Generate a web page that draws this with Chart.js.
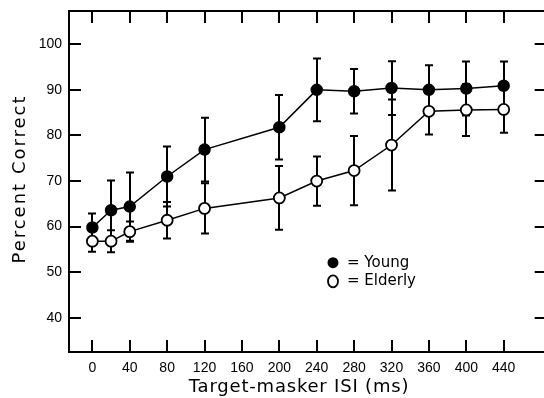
<!DOCTYPE html>
<html lang="en">
<head>
  <meta charset="utf-8">
  <script src="https://cdn.jsdelivr.net/npm/chart.js@4.4.1/dist/chart.umd.min.js"></script>
  <style>
    html, body { margin: 0; padding: 0; background: #fff; overflow: hidden; }
    /* canvas is a bit wider than the window so the right frame falls off the edge */
    #isi-chart { display: block; }
  </style>
</head>
<body>
  <canvas id="isi-chart" width="554" height="398"></canvas>
<script>
  // data
  const isi = [0, 20, 40, 80, 120, 200, 240, 280, 320, 360, 400, 440];
  const young = [59.8, 63.6, 64.4, 71.0, 76.9, 81.8, 90.0, 89.7, 90.4, 90.0, 90.3, 90.9];
  const youngErr = [3.1, 6.5, 7.5, 6.6, 7.0, 7.1, 6.9, 4.9, 5.9, 5.4, 5.9, 5.3];
  const elderly = [56.8, 56.8, 58.9, 61.4, 64.0, 66.3, 70.0, 72.3, 77.9, 85.3, 85.6, 85.7];
  const elderlyErr = [2.3, 2.4, 2.2, 4.0, 5.5, 7.0, 5.4, 7.6, 10.0, 5.1, 5.7, 5.1];
  const xTicks = [0, 40, 80, 120, 160, 200, 240, 280, 320, 360, 400, 440];
  const yTicks = [40, 50, 60, 70, 80, 90, 100];
  const xTitle = 'Target-masker ISI (ms)';
  const yTitle = 'Percent Correct';

  const toPoints = (ys) => isi.map((x, i) => ({ x: x, y: ys[i] }));

  // error bars, frame, inward ticks, titles and the little key
  const figurePlugin = {
    id: 'figure',
    beforeDatasetsDraw(chart) {
      const ctx = chart.ctx, xs = chart.scales.x, ys = chart.scales.y;
      ctx.save();
      ctx.strokeStyle = '#000';
      ctx.lineWidth = 2;
      [[young, youngErr], [elderly, elderlyErr]].forEach(([vals, errs]) => {
        vals.forEach((v, i) => {
          const px = Math.round(xs.getPixelForValue(isi[i]));
          const top = ys.getPixelForValue(v + errs[i]);
          const bot = ys.getPixelForValue(v - errs[i]);
          ctx.beginPath();
          ctx.moveTo(px, top); ctx.lineTo(px, bot);
          ctx.moveTo(px - 4, top); ctx.lineTo(px + 4, top);
          ctx.moveTo(px - 4, bot); ctx.lineTo(px + 4, bot);
          ctx.stroke();
        });
      });
      ctx.restore();
    },
    afterDraw(chart) {
      const ctx = chart.ctx, a = chart.chartArea;
      const xs = chart.scales.x, ys = chart.scales.y;
      const len = 12;
      ctx.save();
      ctx.strokeStyle = '#000';
      ctx.lineWidth = 2;
      ctx.strokeRect(a.left, a.top, a.right - a.left, a.bottom - a.top);
      ctx.beginPath();
      xTicks.forEach(t => {
        const px = Math.round(xs.getPixelForValue(t));
        ctx.moveTo(px, a.bottom); ctx.lineTo(px, a.bottom - len);
        ctx.moveTo(px, a.top); ctx.lineTo(px, a.top + len);
      });
      yTicks.forEach(t => {
        const py = Math.round(ys.getPixelForValue(t));
        ctx.moveTo(a.left, py); ctx.lineTo(a.left + len, py);
        ctx.moveTo(a.right, py); ctx.lineTo(a.right - len, py);
      });
      ctx.stroke();

      // axis titles (spaced out like the original lettering)
      ctx.fillStyle = '#000';
      ctx.textAlign = 'center';
      ctx.textBaseline = 'middle';
      ctx.font = '18px "DejaVu Sans", sans-serif';
      ctx.letterSpacing = '0.8px';
      ctx.fillText(xTitle, 299, 387);
      ctx.save();
      ctx.translate(20, 179);
      ctx.rotate(-Math.PI / 2);
      ctx.letterSpacing = '2px';
      ctx.fillText(yTitle, 0, 0);
      ctx.restore();
      ctx.letterSpacing = '0px';

      // key
      const kx = xs.getPixelForValue(257.4), ky1 = ys.getPixelForValue(52.1), ky2 = ys.getPixelForValue(48.0);
      ctx.beginPath(); ctx.arc(kx, ky1, 5.5, 0, Math.PI * 2); ctx.fill();
      ctx.lineWidth = 1.8;
      ctx.beginPath(); ctx.ellipse(kx, ky2, 5, 6, 0, 0, Math.PI * 2); ctx.stroke();
      ctx.font = '15px "DejaVu Sans", sans-serif';
      ctx.textAlign = 'left';
      ctx.fillText('= Young', kx + 14, ky1);
      ctx.fillText('= Elderly', kx + 14, ky2);
      ctx.restore();
    }
  };

  const chartData = {
    datasets: [
      {
        label: 'Young',
        data: toPoints(young),
        borderColor: '#000',
        backgroundColor: '#000',
        pointBackgroundColor: '#000',
        pointBorderColor: '#000',
        pointRadius: 5.5,
        pointBorderWidth: 1.5,
        borderWidth: 1.5,
      },
      {
        label: 'Elderly',
        data: toPoints(elderly),
        borderColor: '#000',
        backgroundColor: '#fff',
        pointBackgroundColor: '#fff',
        pointBorderColor: '#000',
        pointRadius: 5.5,
        pointBorderWidth: 1.8,
        borderWidth: 1.5,
      }
    ]
  };

  // keep the plot box exactly where the original has it
  const noPad = (s) => { s.paddingLeft = 0; s.paddingRight = 0; s.paddingTop = 0; s.paddingBottom = 0; };

  const lineConfig = {
    type: 'line',
    data: chartData,
    plugins: [figurePlugin],
    options: {
      responsive: false,
      animation: false,
      devicePixelRatio: 1,
      layout: { padding: { left: 0, top: 11, right: 1, bottom: 0 } },
      plugins: {
        legend: { display: false },
        tooltip: { enabled: false },
        title: { display: false },
      },
      scales: {
        x: {
          type: 'linear',
          min: -25,
          max: 486,
          afterBuildTicks: (s) => { s.ticks = xTicks.map(v => ({ value: v })); },
          afterFit: (s) => { s.height = 46; noPad(s); },
          grid: { display: false, drawTicks: false },
          border: { display: false },
          ticks: {
            autoSkip: false, maxRotation: 0, padding: 8, color: '#000',
            font: { family: '"Liberation Sans", Arial, sans-serif', size: 14 },
          },
        },
        y: {
          min: 32.5,
          max: 107.3,
          afterBuildTicks: (s) => { s.ticks = yTicks.map(v => ({ value: v })); },
          afterFit: (s) => { s.width = 69; noPad(s); },
          grid: { display: false, drawTicks: false },
          border: { display: false },
          ticks: {
            padding: 7, color: '#000',
            font: { family: '"Liberation Sans", Arial, sans-serif', size: 14 },
          },
        }
      }
    }
  };

  window.onload = function () {
    const c = document.getElementById('isi-chart').getContext('2d');
    window.chart1 = new Chart(c, lineConfig);
  };
</script>
</body>
</html>
